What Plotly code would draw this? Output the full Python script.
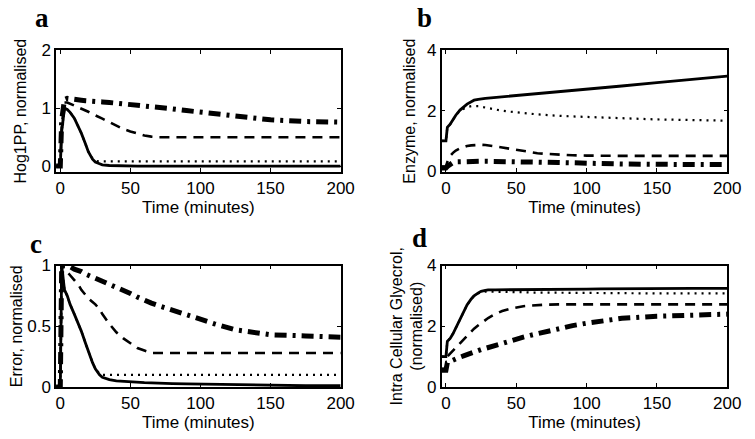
import plotly.graph_objects as go
from plotly.subplots import make_subplots

# time grid (minutes), shared by all panels
t = [-3, 0, 1, 3, 5, 7, 10, 13, 15, 18, 20, 23, 25, 28, 30, 35, 40, 45, 50, 55,
     60, 65, 70, 80, 90, 100, 110, 125, 150, 175, 200]

# panel a: Hog1PP
a_solid = [0, 0, 0.6, 1.0, 0.98, 0.93, 0.83, 0.68, 0.57, 0.38, 0.25, 0.12, 0.07, 0.04, 0.02, 0.01,
           0.005, 0, 0, 0, 0, 0, 0, 0, 0, 0, 0, 0, 0, 0, 0]
a_dot = [0, 0, 0.6, 1.0, 0.98, 0.93, 0.83, 0.68, 0.57, 0.38, 0.25, 0.13, 0.09, 0.08, 0.08, 0.08,
         0.08, 0.08, 0.08, 0.08, 0.08, 0.08, 0.08, 0.08, 0.08, 0.08, 0.08, 0.08, 0.08, 0.08, 0.08]
a_dash = [0, 0, 0.7, 1.1, 1.1, 1.08, 1.05, 1.02, 1.0, 0.96, 0.94, 0.9, 0.88, 0.85, 0.82, 0.76,
          0.7, 0.64, 0.6, 0.56, 0.53, 0.51, 0.5, 0.5, 0.5, 0.5, 0.5, 0.5, 0.5, 0.5, 0.5]
a_dashdot = [0, 0, 0.8, 1.15, 1.17, 1.16, 1.15, 1.14, 1.14, 1.13, 1.13, 1.12, 1.12, 1.11, 1.11, 1.1,
             1.09, 1.08, 1.07, 1.06, 1.05, 1.04, 1.02, 0.99, 0.96, 0.93, 0.9, 0.86, 0.8, 0.77, 0.76]

# panel b: Enzyme
b_solid = [1, 1, 1.45, 1.55, 1.7, 1.85, 2.02, 2.15, 2.22, 2.3, 2.35, 2.38, 2.4, 2.41, 2.42, 2.44,
           2.46, 2.48, 2.5, 2.52, 2.55, 2.57, 2.59, 2.63, 2.67, 2.72, 2.76, 2.82, 2.93, 3.04, 3.15]
b_dot = [1, 1, 1.45, 1.55, 1.7, 1.85, 2.0, 2.08, 2.12, 2.15, 2.16, 2.15, 2.13, 2.1, 2.08, 2.04,
         2.0, 1.97, 1.94, 1.92, 1.9, 1.88, 1.86, 1.83, 1.81, 1.79, 1.77, 1.75, 1.71, 1.69, 1.67]
b_dash = [0.15, 0.15, 0.3, 0.5, 0.6, 0.68, 0.75, 0.8, 0.83, 0.85, 0.86, 0.87, 0.87, 0.86, 0.85, 0.82,
          0.78, 0.74, 0.7, 0.66, 0.62, 0.59, 0.57, 0.54, 0.52, 0.51, 0.5, 0.5, 0.5, 0.5, 0.5]
b_dashdot = [0.1, 0.1, 0.15, 0.22, 0.28, 0.3, 0.31, 0.32, 0.32, 0.32, 0.32, 0.32, 0.32, 0.32, 0.32, 0.32,
             0.32, 0.32, 0.31, 0.31, 0.31, 0.3, 0.3, 0.28, 0.27, 0.25, 0.24, 0.23, 0.22, 0.21, 0.21]

# panel c: Error
c_solid = [0, 0, 1.0, 0.8, 0.75, 0.68, 0.6, 0.52, 0.46, 0.36, 0.29, 0.2, 0.15, 0.1, 0.08, 0.06,
           0.05, 0.045, 0.04, 0.038, 0.035, 0.033, 0.03, 0.028, 0.026, 0.024, 0.022, 0.02, 0.015, 0.01, 0.01]
c_dot = [0, 0, 1.0, 0.8, 0.75, 0.68, 0.6, 0.52, 0.46, 0.36, 0.29, 0.2, 0.15, 0.11, 0.1, 0.1,
         0.1, 0.1, 0.1, 0.1, 0.1, 0.1, 0.1, 0.1, 0.1, 0.1, 0.1, 0.1, 0.1, 0.1, 0.1]
c_dash = [0, 0, 1.0, 0.97, 0.95, 0.92, 0.88, 0.84, 0.8, 0.76, 0.73, 0.7, 0.68, 0.64, 0.6, 0.52,
          0.45, 0.4, 0.36, 0.32, 0.3, 0.28, 0.28, 0.28, 0.28, 0.28, 0.28, 0.28, 0.28, 0.28, 0.28]
c_dashdot = [0, 0, 1.0, 1.0, 1.0, 0.99, 0.97, 0.96, 0.95, 0.93, 0.92, 0.91, 0.9, 0.89, 0.88, 0.85,
             0.82, 0.8, 0.77, 0.74, 0.71, 0.69, 0.67, 0.63, 0.59, 0.56, 0.52, 0.47, 0.43, 0.42, 0.41]

# panel d: intracellular glycerol
d_solid = [1, 1, 1.5, 1.6, 1.75, 1.95, 2.2, 2.5, 2.7, 2.9, 3.0, 3.1, 3.15, 3.18, 3.2, 3.2,
           3.2, 3.2, 3.2, 3.2, 3.21, 3.21, 3.21, 3.22, 3.22, 3.22, 3.23, 3.24, 3.25, 3.25, 3.25]
d_dot = [1, 1, 1.5, 1.6, 1.75, 1.95, 2.2, 2.5, 2.7, 2.9, 3.0, 3.08, 3.12, 3.14, 3.14, 3.13,
         3.13, 3.12, 3.12, 3.12, 3.11, 3.11, 3.11, 3.1, 3.1, 3.1, 3.09, 3.09, 3.08, 3.08, 3.08]
d_dash = [0.6, 0.6, 1.0, 1.1, 1.2, 1.3, 1.45, 1.6, 1.7, 1.83, 1.92, 2.03, 2.1, 2.2, 2.27, 2.4,
          2.5, 2.57, 2.62, 2.66, 2.68, 2.7, 2.71, 2.72, 2.72, 2.72, 2.72, 2.72, 2.72, 2.72, 2.72]
d_dashdot = [0.55, 0.55, 0.8, 0.85, 0.9, 0.93, 0.98, 1.03, 1.07, 1.12, 1.15, 1.2, 1.23, 1.27, 1.3, 1.38,
             1.45, 1.52, 1.58, 1.64, 1.7, 1.76, 1.82, 1.92, 2.02, 2.1, 2.17, 2.26, 2.33, 2.37, 2.4]

# the page body adds an 8px margin, so lay out in screen pixels minus that offset
W, H, OFF = 747, 431, 8


def px_x(v):
    return (v - OFF) / W


def px_y(v):
    return 1 - (v - OFF) / H


panels = [
    (1, 1, [a_solid, a_dot, a_dash, a_dashdot], "Hog1PP, normalised", [-0.1, 2], [0, 1, 2], ["0", "1", "2"], 11),
    (1, 2, [b_solid, b_dot, b_dash, b_dashdot], "Enzyme, normalised", [-0.03, 4], [0, 2, 4], ["0", "2", "4"], 7),
    (2, 1, [c_solid, c_dot, c_dash, c_dashdot], "Error, normalised", [0, 1], [0, 0.5, 1], ["0", "0.5", "1"], 3),
    (2, 2, [d_solid, d_dot, d_dash, d_dashdot], "Intra Cellular Glyecrol,<br>(normalised)", [0, 4], [0, 2, 4], ["0", "2", "4"], 0),
]

styles = [
    dict(width=2.8, dash="solid"),
    dict(width=2.2, dash="2px,5px"),
    dict(width=2.6, dash="10px,7px"),
    dict(width=5, dash="12px,6px,3px,6px"),
]

fig = make_subplots(rows=2, cols=2)

for row, col, series, ytitle, yrange, yticks, yticktext, stand in panels:
    for vals, st in zip(series, styles):
        fig.add_trace(go.Scatter(x=t, y=vals, mode="lines",
                                 line=dict(color="black", **st), showlegend=False),
                      row=row, col=col)
    fig.update_yaxes(range=yrange, tickvals=yticks, ticktext=yticktext,
                     title=dict(text=ytitle, font=dict(size=16), standoff=stand),
                     row=row, col=col)

ax = dict(showline=True, linecolor="black", linewidth=1.5, mirror="ticks",
          ticks="inside", ticklen=4, tickcolor="black", showgrid=False, zeroline=False,
          tickfont=dict(size=17, color="black"))
fig.update_xaxes(range=[-3, 200], tickvals=[0, 50, 100, 150, 200],
                 title=dict(text="Time (minutes)", font=dict(size=17), standoff=1), **ax)
fig.update_yaxes(**ax)

left = [px_x(57), px_x(347)]
right = [px_x(450), px_x(741)]
top = [px_y(170), px_y(43)]
bottom = [px_y(395), px_y(268)]

fig.update_layout(
    width=W, height=H,
    margin=dict(l=0, r=0, t=0, b=0),
    plot_bgcolor="white", paper_bgcolor="white",
    font=dict(family="Liberation Sans, Arial, sans-serif", color="black"),
    xaxis=dict(domain=left), xaxis2=dict(domain=right),
    xaxis3=dict(domain=left), xaxis4=dict(domain=right),
    yaxis=dict(domain=top), yaxis2=dict(domain=top),
    yaxis3=dict(domain=bottom), yaxis4=dict(domain=bottom),
)

letters = [("a", 43, 9), ("b", 432, 9), ("c", 37, 245), ("d", 427, 239)]
for txt, lx, ly in letters:
    fig.add_annotation(text="<b>" + txt + "</b>", x=px_x(lx), y=px_y(ly),
                       xref="paper", yref="paper", showarrow=False,
                       xanchor="center", yanchor="middle",
                       font=dict(family="Liberation Serif, Times New Roman, serif", size=27, color="black"))

fig.write_html("out.html")
